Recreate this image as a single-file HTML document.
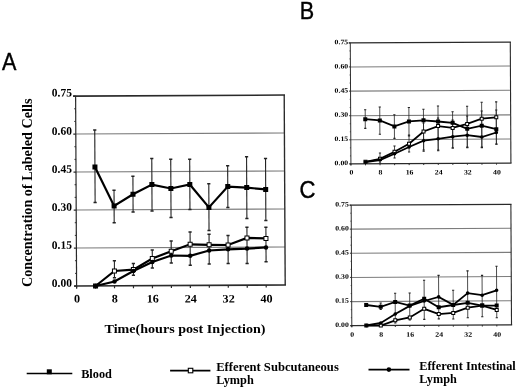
<!DOCTYPE html><html><head><meta charset="utf-8"><style>html,body{margin:0;padding:0;background:#fff;}svg{display:block;filter:grayscale(1)}</style></head><body>
<svg width="520" height="389" viewBox="0 0 520 389">
<rect width="520" height="389" fill="#fff"/>
<text transform="translate(2,69.5) scale(0.9,1)" font-size="24" stroke="#000" stroke-width="0.4" font-family="Liberation Sans">A</text>
<text transform="translate(299.8,19.3) scale(0.9,1)" font-size="24" stroke="#000" stroke-width="0.4" font-family="Liberation Sans">B</text>
<text transform="translate(299.6,198) scale(0.92,1.03)" font-size="24" stroke="#000" stroke-width="0.4" font-family="Liberation Sans">C</text>
<g transform="rotate(-0.3 180 190)">
<line x1="76.1" y1="133.5" x2="284.7" y2="133.5" stroke="#7c7c7c" stroke-width="1.1"/>
<line x1="76.1" y1="171.5" x2="284.7" y2="171.5" stroke="#7c7c7c" stroke-width="1.1"/>
<line x1="76.1" y1="209.5" x2="284.7" y2="209.5" stroke="#7c7c7c" stroke-width="1.1"/>
<line x1="76.1" y1="247.5" x2="284.7" y2="247.5" stroke="#7c7c7c" stroke-width="1.1"/>
<line x1="73.6" y1="95.6" x2="285.5" y2="95.6" stroke="#2a2a2a" stroke-width="1.6"/>
<line x1="284.7" y1="95.6" x2="284.7" y2="285.5" stroke="#2a2a2a" stroke-width="1.36"/>
<line x1="73.6" y1="285.5" x2="285.5" y2="285.5" stroke="#2a2a2a" stroke-width="1.6"/>
<line x1="76.1" y1="95.6" x2="76.1" y2="288.0" stroke="#2a2a2a" stroke-width="1.2000000000000002"/>
<line x1="73.6" y1="95.6" x2="76.1" y2="95.6" stroke="#2a2a2a" stroke-width="1.2000000000000002"/>
<line x1="73.6" y1="133.5" x2="76.1" y2="133.5" stroke="#2a2a2a" stroke-width="1.2000000000000002"/>
<line x1="73.6" y1="171.5" x2="76.1" y2="171.5" stroke="#2a2a2a" stroke-width="1.2000000000000002"/>
<line x1="73.6" y1="209.5" x2="76.1" y2="209.5" stroke="#2a2a2a" stroke-width="1.2000000000000002"/>
<line x1="73.6" y1="247.5" x2="76.1" y2="247.5" stroke="#2a2a2a" stroke-width="1.2000000000000002"/>
<line x1="73.6" y1="285.5" x2="76.1" y2="285.5" stroke="#2a2a2a" stroke-width="1.2000000000000002"/>
<line x1="74.6" y1="108.23" x2="76.1" y2="108.23" stroke="#2a2a2a" stroke-width="0.96"/>
<line x1="74.6" y1="120.87" x2="76.1" y2="120.87" stroke="#2a2a2a" stroke-width="0.96"/>
<line x1="74.6" y1="146.17" x2="76.1" y2="146.17" stroke="#2a2a2a" stroke-width="0.96"/>
<line x1="74.6" y1="158.83" x2="76.1" y2="158.83" stroke="#2a2a2a" stroke-width="0.96"/>
<line x1="74.6" y1="184.17" x2="76.1" y2="184.17" stroke="#2a2a2a" stroke-width="0.96"/>
<line x1="74.6" y1="196.83" x2="76.1" y2="196.83" stroke="#2a2a2a" stroke-width="0.96"/>
<line x1="74.6" y1="222.17" x2="76.1" y2="222.17" stroke="#2a2a2a" stroke-width="0.96"/>
<line x1="74.6" y1="234.83" x2="76.1" y2="234.83" stroke="#2a2a2a" stroke-width="0.96"/>
<line x1="74.6" y1="260.17" x2="76.1" y2="260.17" stroke="#2a2a2a" stroke-width="0.96"/>
<line x1="74.6" y1="272.83" x2="76.1" y2="272.83" stroke="#2a2a2a" stroke-width="0.96"/>
<line x1="76.10" y1="285.5" x2="76.10" y2="288.0" stroke="#2a2a2a" stroke-width="1.2000000000000002"/>
<line x1="95.06" y1="285.5" x2="95.06" y2="288.0" stroke="#2a2a2a" stroke-width="1.2000000000000002"/>
<line x1="114.02" y1="285.5" x2="114.02" y2="288.0" stroke="#2a2a2a" stroke-width="1.2000000000000002"/>
<line x1="132.98" y1="285.5" x2="132.98" y2="288.0" stroke="#2a2a2a" stroke-width="1.2000000000000002"/>
<line x1="151.94" y1="285.5" x2="151.94" y2="288.0" stroke="#2a2a2a" stroke-width="1.2000000000000002"/>
<line x1="170.90" y1="285.5" x2="170.90" y2="288.0" stroke="#2a2a2a" stroke-width="1.2000000000000002"/>
<line x1="189.86" y1="285.5" x2="189.86" y2="288.0" stroke="#2a2a2a" stroke-width="1.2000000000000002"/>
<line x1="208.82" y1="285.5" x2="208.82" y2="288.0" stroke="#2a2a2a" stroke-width="1.2000000000000002"/>
<line x1="227.78" y1="285.5" x2="227.78" y2="288.0" stroke="#2a2a2a" stroke-width="1.2000000000000002"/>
<line x1="246.74" y1="285.5" x2="246.74" y2="288.0" stroke="#2a2a2a" stroke-width="1.2000000000000002"/>
<line x1="265.70" y1="285.5" x2="265.70" y2="288.0" stroke="#2a2a2a" stroke-width="1.2000000000000002"/>
<text transform="translate(71.39,286.23) scale(1.0,1)" text-anchor="end" font-size="11.5" font-family="Liberation Serif" font-weight="bold">0.00</text>
<text transform="translate(71.59,248.23) scale(1.0,1)" text-anchor="end" font-size="11.5" font-family="Liberation Serif" font-weight="bold">0.15</text>
<text transform="translate(71.79,210.23) scale(1.0,1)" text-anchor="end" font-size="11.5" font-family="Liberation Serif" font-weight="bold">0.30</text>
<text transform="translate(71.99,172.23) scale(1.0,1)" text-anchor="end" font-size="11.5" font-family="Liberation Serif" font-weight="bold">0.45</text>
<text transform="translate(72.19,134.23) scale(1.0,1)" text-anchor="end" font-size="11.5" font-family="Liberation Serif" font-weight="bold">0.60</text>
<text transform="translate(72.39,95.94) scale(1.0,1)" text-anchor="end" font-size="11.5" font-family="Liberation Serif" font-weight="bold">0.75</text>
<text transform="translate(76.40,301.96) scale(1.06,1)" text-anchor="middle" font-size="11.5" font-family="Liberation Serif" font-weight="bold">0</text>
<text transform="translate(114.32,302.15) scale(1.06,1)" text-anchor="middle" font-size="11.5" font-family="Liberation Serif" font-weight="bold">8</text>
<text transform="translate(152.24,302.35) scale(1.06,1)" text-anchor="middle" font-size="11.5" font-family="Liberation Serif" font-weight="bold">16</text>
<text transform="translate(190.16,302.55) scale(1.06,1)" text-anchor="middle" font-size="11.5" font-family="Liberation Serif" font-weight="bold">24</text>
<text transform="translate(228.08,302.75) scale(1.06,1)" text-anchor="middle" font-size="11.5" font-family="Liberation Serif" font-weight="bold">32</text>
<text transform="translate(266.00,302.95) scale(1.06,1)" text-anchor="middle" font-size="11.5" font-family="Liberation Serif" font-weight="bold">40</text>
<line x1="95.06" y1="129.55" x2="95.06" y2="202.16" stroke="#222" stroke-width="1.1"/>
<line x1="93.46" y1="129.55" x2="96.66" y2="129.55" stroke="#222" stroke-width="1.5"/>
<line x1="93.46" y1="202.16" x2="96.66" y2="202.16" stroke="#222" stroke-width="1.5"/>
<line x1="114.02" y1="189.95" x2="114.02" y2="222.35" stroke="#222" stroke-width="1.1"/>
<line x1="112.42" y1="189.95" x2="115.62" y2="189.95" stroke="#222" stroke-width="1.5"/>
<line x1="112.42" y1="222.35" x2="115.62" y2="222.35" stroke="#222" stroke-width="1.5"/>
<line x1="132.98" y1="175.95" x2="132.98" y2="211.75" stroke="#222" stroke-width="1.1"/>
<line x1="131.38" y1="175.95" x2="134.58" y2="175.95" stroke="#222" stroke-width="1.5"/>
<line x1="131.38" y1="211.75" x2="134.58" y2="211.75" stroke="#222" stroke-width="1.5"/>
<line x1="151.94" y1="158.35" x2="151.94" y2="210.85" stroke="#222" stroke-width="1.1"/>
<line x1="150.34" y1="158.35" x2="153.54" y2="158.35" stroke="#222" stroke-width="1.5"/>
<line x1="150.34" y1="210.85" x2="153.54" y2="210.85" stroke="#222" stroke-width="1.5"/>
<line x1="170.90" y1="159.25" x2="170.90" y2="217.45" stroke="#222" stroke-width="1.1"/>
<line x1="169.30" y1="159.25" x2="172.50" y2="159.25" stroke="#222" stroke-width="1.5"/>
<line x1="169.30" y1="217.45" x2="172.50" y2="217.45" stroke="#222" stroke-width="1.5"/>
<line x1="189.86" y1="159.35" x2="189.86" y2="209.55" stroke="#222" stroke-width="1.1"/>
<line x1="188.26" y1="159.35" x2="191.46" y2="159.35" stroke="#222" stroke-width="1.5"/>
<line x1="188.26" y1="209.55" x2="191.46" y2="209.55" stroke="#222" stroke-width="1.5"/>
<line x1="208.82" y1="183.85" x2="208.82" y2="230.75" stroke="#222" stroke-width="1.1"/>
<line x1="207.22" y1="183.85" x2="210.42" y2="183.85" stroke="#222" stroke-width="1.5"/>
<line x1="207.22" y1="230.75" x2="210.42" y2="230.75" stroke="#222" stroke-width="1.5"/>
<line x1="227.78" y1="165.95" x2="227.78" y2="207.65" stroke="#222" stroke-width="1.1"/>
<line x1="226.18" y1="165.95" x2="229.38" y2="165.95" stroke="#222" stroke-width="1.5"/>
<line x1="226.18" y1="207.65" x2="229.38" y2="207.65" stroke="#222" stroke-width="1.5"/>
<line x1="246.74" y1="157.05" x2="246.74" y2="218.85" stroke="#222" stroke-width="1.1"/>
<line x1="245.14" y1="157.05" x2="248.34" y2="157.05" stroke="#222" stroke-width="1.5"/>
<line x1="245.14" y1="218.85" x2="248.34" y2="218.85" stroke="#222" stroke-width="1.5"/>
<line x1="265.70" y1="158.95" x2="265.70" y2="220.95" stroke="#222" stroke-width="1.1"/>
<line x1="264.10" y1="158.95" x2="267.30" y2="158.95" stroke="#222" stroke-width="1.5"/>
<line x1="264.10" y1="220.95" x2="267.30" y2="220.95" stroke="#222" stroke-width="1.5"/>
<line x1="114.02" y1="260.46" x2="114.02" y2="277.36" stroke="#222" stroke-width="1.1"/>
<line x1="112.42" y1="260.46" x2="115.62" y2="260.46" stroke="#222" stroke-width="1.5"/>
<line x1="112.42" y1="277.36" x2="115.62" y2="277.36" stroke="#222" stroke-width="1.5"/>
<line x1="132.98" y1="263.35" x2="132.98" y2="274.95" stroke="#222" stroke-width="1.1"/>
<line x1="131.38" y1="263.35" x2="134.58" y2="263.35" stroke="#222" stroke-width="1.5"/>
<line x1="131.38" y1="274.95" x2="134.58" y2="274.95" stroke="#222" stroke-width="1.5"/>
<line x1="151.94" y1="249.85" x2="151.94" y2="267.85" stroke="#222" stroke-width="1.1"/>
<line x1="150.34" y1="249.85" x2="153.54" y2="249.85" stroke="#222" stroke-width="1.5"/>
<line x1="150.34" y1="267.85" x2="153.54" y2="267.85" stroke="#222" stroke-width="1.5"/>
<line x1="170.90" y1="240.95" x2="170.90" y2="262.95" stroke="#222" stroke-width="1.1"/>
<line x1="169.30" y1="240.95" x2="172.50" y2="240.95" stroke="#222" stroke-width="1.5"/>
<line x1="169.30" y1="262.95" x2="172.50" y2="262.95" stroke="#222" stroke-width="1.5"/>
<line x1="189.86" y1="231.95" x2="189.86" y2="265.35" stroke="#222" stroke-width="1.1"/>
<line x1="188.26" y1="231.95" x2="191.46" y2="231.95" stroke="#222" stroke-width="1.5"/>
<line x1="188.26" y1="265.35" x2="191.46" y2="265.35" stroke="#222" stroke-width="1.5"/>
<line x1="208.82" y1="234.45" x2="208.82" y2="264.25" stroke="#222" stroke-width="1.1"/>
<line x1="207.22" y1="234.45" x2="210.42" y2="234.45" stroke="#222" stroke-width="1.5"/>
<line x1="207.22" y1="264.25" x2="210.42" y2="264.25" stroke="#222" stroke-width="1.5"/>
<line x1="227.78" y1="235.75" x2="227.78" y2="263.85" stroke="#222" stroke-width="1.1"/>
<line x1="226.18" y1="235.75" x2="229.38" y2="235.75" stroke="#222" stroke-width="1.5"/>
<line x1="226.18" y1="263.85" x2="229.38" y2="263.85" stroke="#222" stroke-width="1.5"/>
<line x1="246.74" y1="227.55" x2="246.74" y2="263.75" stroke="#222" stroke-width="1.1"/>
<line x1="245.14" y1="227.55" x2="248.34" y2="227.55" stroke="#222" stroke-width="1.5"/>
<line x1="245.14" y1="263.75" x2="248.34" y2="263.75" stroke="#222" stroke-width="1.5"/>
<line x1="265.70" y1="227.65" x2="265.70" y2="262.15" stroke="#222" stroke-width="1.1"/>
<line x1="264.10" y1="227.65" x2="267.30" y2="227.65" stroke="#222" stroke-width="1.5"/>
<line x1="264.10" y1="262.15" x2="267.30" y2="262.15" stroke="#222" stroke-width="1.5"/>
<polyline points="95.06,285.56 114.02,270.66 132.98,269.35 151.94,258.35 170.90,251.25 189.86,244.35 208.82,244.95 227.78,245.25 246.74,238.25 265.70,238.85" fill="none" stroke="#000" stroke-width="2.2" stroke-linejoin="miter"/>
<rect x="93.06" y="283.56" width="4" height="4" fill="#fff" stroke="#000" stroke-width="1"/>
<rect x="112.02" y="268.66" width="4" height="4" fill="#fff" stroke="#000" stroke-width="1"/>
<rect x="130.98" y="267.35" width="4" height="4" fill="#fff" stroke="#000" stroke-width="1"/>
<rect x="149.94" y="256.35" width="4" height="4" fill="#fff" stroke="#000" stroke-width="1"/>
<rect x="168.90" y="249.25" width="4" height="4" fill="#fff" stroke="#000" stroke-width="1"/>
<rect x="187.86" y="242.35" width="4" height="4" fill="#fff" stroke="#000" stroke-width="1"/>
<rect x="206.82" y="242.95" width="4" height="4" fill="#fff" stroke="#000" stroke-width="1"/>
<rect x="225.78" y="243.25" width="4" height="4" fill="#fff" stroke="#000" stroke-width="1"/>
<rect x="244.74" y="236.25" width="4" height="4" fill="#fff" stroke="#000" stroke-width="1"/>
<rect x="263.70" y="236.85" width="4" height="4" fill="#fff" stroke="#000" stroke-width="1"/>
<polyline points="95.06,285.56 114.02,281.16 132.98,270.75 151.94,261.85 170.90,255.45 189.86,255.85 208.82,250.65 227.78,249.55 246.74,248.95 265.70,247.85" fill="none" stroke="#000" stroke-width="2.2" stroke-linejoin="miter"/>
<circle cx="95.06" cy="285.56" r="2.25" fill="#000"/>
<circle cx="114.02" cy="281.16" r="2.25" fill="#000"/>
<circle cx="132.98" cy="270.75" r="2.25" fill="#000"/>
<circle cx="151.94" cy="261.85" r="2.25" fill="#000"/>
<circle cx="170.90" cy="255.45" r="2.25" fill="#000"/>
<circle cx="189.86" cy="255.85" r="2.25" fill="#000"/>
<circle cx="208.82" cy="250.65" r="2.25" fill="#000"/>
<circle cx="227.78" cy="249.55" r="2.25" fill="#000"/>
<circle cx="246.74" cy="248.95" r="2.25" fill="#000"/>
<circle cx="265.70" cy="247.85" r="2.25" fill="#000"/>
<polyline points="95.06,166.55 114.02,205.65 132.98,194.05 151.94,184.45 170.90,188.45 189.86,184.55 208.82,207.55 227.78,186.85 246.74,187.95 265.70,189.85" fill="none" stroke="#000" stroke-width="2.2" stroke-linejoin="miter"/>
<rect x="92.56" y="164.05" width="5" height="5" fill="#000"/>
<rect x="111.52" y="203.15" width="5" height="5" fill="#000"/>
<rect x="130.48" y="191.55" width="5" height="5" fill="#000"/>
<rect x="149.44" y="181.95" width="5" height="5" fill="#000"/>
<rect x="168.40" y="185.95" width="5" height="5" fill="#000"/>
<rect x="187.36" y="182.05" width="5" height="5" fill="#000"/>
<rect x="206.32" y="205.05" width="5" height="5" fill="#000"/>
<rect x="225.28" y="184.35" width="5" height="5" fill="#000"/>
<rect x="244.24" y="185.45" width="5" height="5" fill="#000"/>
<rect x="263.20" y="187.35" width="5" height="5" fill="#000"/>
</g>
<text x="185" y="332.5" text-anchor="middle" font-size="12.8" textLength="161" lengthAdjust="spacingAndGlyphs" font-family="Liberation Serif" font-weight="bold">Time(hours post Injection)</text>
<text transform="translate(31.8,192.8) rotate(-90)" x="0" y="0" text-anchor="middle" font-size="13.8" textLength="188.5" lengthAdjust="spacingAndGlyphs" font-family="Liberation Serif" font-weight="bold">Concentration of Labeled Cells</text>
<g transform="rotate(-0.3 430 103)">
<line x1="350.6" y1="66.5" x2="510.6" y2="66.5" stroke="#7c7c7c" stroke-width="1.05"/>
<line x1="350.6" y1="90.7" x2="510.6" y2="90.7" stroke="#7c7c7c" stroke-width="1.05"/>
<line x1="350.6" y1="115.3" x2="510.6" y2="115.3" stroke="#7c7c7c" stroke-width="1.05"/>
<line x1="350.6" y1="139.4" x2="510.6" y2="139.4" stroke="#7c7c7c" stroke-width="1.05"/>
<line x1="349.1" y1="42.5" x2="511.25" y2="42.5" stroke="#2a2a2a" stroke-width="1.3"/>
<line x1="510.6" y1="42.5" x2="510.6" y2="163.5" stroke="#2a2a2a" stroke-width="1.105"/>
<line x1="349.1" y1="163.5" x2="511.25" y2="163.5" stroke="#2a2a2a" stroke-width="1.3"/>
<line x1="350.6" y1="42.5" x2="350.6" y2="165.0" stroke="#2a2a2a" stroke-width="0.9750000000000001"/>
<line x1="349.1" y1="42.5" x2="350.6" y2="42.5" stroke="#2a2a2a" stroke-width="0.9750000000000001"/>
<line x1="349.1" y1="66.5" x2="350.6" y2="66.5" stroke="#2a2a2a" stroke-width="0.9750000000000001"/>
<line x1="349.1" y1="90.7" x2="350.6" y2="90.7" stroke="#2a2a2a" stroke-width="0.9750000000000001"/>
<line x1="349.1" y1="115.3" x2="350.6" y2="115.3" stroke="#2a2a2a" stroke-width="0.9750000000000001"/>
<line x1="349.1" y1="139.4" x2="350.6" y2="139.4" stroke="#2a2a2a" stroke-width="0.9750000000000001"/>
<line x1="349.1" y1="163.5" x2="350.6" y2="163.5" stroke="#2a2a2a" stroke-width="0.9750000000000001"/>
<line x1="349.70000000000005" y1="50.50" x2="350.6" y2="50.50" stroke="#2a2a2a" stroke-width="0.78"/>
<line x1="349.70000000000005" y1="58.50" x2="350.6" y2="58.50" stroke="#2a2a2a" stroke-width="0.78"/>
<line x1="349.70000000000005" y1="74.57" x2="350.6" y2="74.57" stroke="#2a2a2a" stroke-width="0.78"/>
<line x1="349.70000000000005" y1="82.63" x2="350.6" y2="82.63" stroke="#2a2a2a" stroke-width="0.78"/>
<line x1="349.70000000000005" y1="98.90" x2="350.6" y2="98.90" stroke="#2a2a2a" stroke-width="0.78"/>
<line x1="349.70000000000005" y1="107.10" x2="350.6" y2="107.10" stroke="#2a2a2a" stroke-width="0.78"/>
<line x1="349.70000000000005" y1="123.33" x2="350.6" y2="123.33" stroke="#2a2a2a" stroke-width="0.78"/>
<line x1="349.70000000000005" y1="131.37" x2="350.6" y2="131.37" stroke="#2a2a2a" stroke-width="0.78"/>
<line x1="349.70000000000005" y1="147.43" x2="350.6" y2="147.43" stroke="#2a2a2a" stroke-width="0.78"/>
<line x1="349.70000000000005" y1="155.47" x2="350.6" y2="155.47" stroke="#2a2a2a" stroke-width="0.78"/>
<line x1="350.60" y1="163.5" x2="350.60" y2="165.0" stroke="#2a2a2a" stroke-width="0.9750000000000001"/>
<line x1="365.16" y1="163.5" x2="365.16" y2="165.0" stroke="#2a2a2a" stroke-width="0.9750000000000001"/>
<line x1="379.72" y1="163.5" x2="379.72" y2="165.0" stroke="#2a2a2a" stroke-width="0.9750000000000001"/>
<line x1="394.28" y1="163.5" x2="394.28" y2="165.0" stroke="#2a2a2a" stroke-width="0.9750000000000001"/>
<line x1="408.84" y1="163.5" x2="408.84" y2="165.0" stroke="#2a2a2a" stroke-width="0.9750000000000001"/>
<line x1="423.40" y1="163.5" x2="423.40" y2="165.0" stroke="#2a2a2a" stroke-width="0.9750000000000001"/>
<line x1="437.96" y1="163.5" x2="437.96" y2="165.0" stroke="#2a2a2a" stroke-width="0.9750000000000001"/>
<line x1="452.52" y1="163.5" x2="452.52" y2="165.0" stroke="#2a2a2a" stroke-width="0.9750000000000001"/>
<line x1="467.08" y1="163.5" x2="467.08" y2="165.0" stroke="#2a2a2a" stroke-width="0.9750000000000001"/>
<line x1="481.64" y1="163.5" x2="481.64" y2="165.0" stroke="#2a2a2a" stroke-width="0.9750000000000001"/>
<line x1="496.20" y1="163.5" x2="496.20" y2="165.0" stroke="#2a2a2a" stroke-width="0.9750000000000001"/>
<text transform="translate(347.88,164.67) scale(1.15,1)" text-anchor="end" font-size="6.8" font-family="Liberation Serif" font-weight="bold">0.00</text>
<text transform="translate(348.00,140.57) scale(1.15,1)" text-anchor="end" font-size="6.8" font-family="Liberation Serif" font-weight="bold">0.15</text>
<text transform="translate(348.13,116.37) scale(1.15,1)" text-anchor="end" font-size="6.8" font-family="Liberation Serif" font-weight="bold">0.30</text>
<text transform="translate(348.26,92.17) scale(1.15,1)" text-anchor="end" font-size="6.8" font-family="Liberation Serif" font-weight="bold">0.45</text>
<text transform="translate(348.38,67.97) scale(1.15,1)" text-anchor="end" font-size="6.8" font-family="Liberation Serif" font-weight="bold">0.60</text>
<text transform="translate(348.51,43.77) scale(1.15,1)" text-anchor="end" font-size="6.8" font-family="Liberation Serif" font-weight="bold">0.75</text>
<text transform="translate(351.00,174.19) scale(1.15,1)" text-anchor="middle" font-size="6.8" font-family="Liberation Serif" font-weight="bold">0</text>
<text transform="translate(380.12,174.34) scale(1.15,1)" text-anchor="middle" font-size="6.8" font-family="Liberation Serif" font-weight="bold">8</text>
<text transform="translate(409.24,174.49) scale(1.15,1)" text-anchor="middle" font-size="6.8" font-family="Liberation Serif" font-weight="bold">16</text>
<text transform="translate(438.36,174.64) scale(1.15,1)" text-anchor="middle" font-size="6.8" font-family="Liberation Serif" font-weight="bold">24</text>
<text transform="translate(467.48,174.80) scale(1.15,1)" text-anchor="middle" font-size="6.8" font-family="Liberation Serif" font-weight="bold">32</text>
<text transform="translate(496.60,174.95) scale(1.15,1)" text-anchor="middle" font-size="6.8" font-family="Liberation Serif" font-weight="bold">40</text>
<line x1="365.16" y1="109.36" x2="365.16" y2="128.06" stroke="#222" stroke-width="0.8"/>
<line x1="364.06" y1="109.36" x2="366.26" y2="109.36" stroke="#222" stroke-width="1.1"/>
<line x1="364.06" y1="128.06" x2="366.26" y2="128.06" stroke="#222" stroke-width="1.1"/>
<line x1="379.72" y1="106.74" x2="379.72" y2="133.94" stroke="#222" stroke-width="0.8"/>
<line x1="378.62" y1="106.74" x2="380.82" y2="106.74" stroke="#222" stroke-width="1.1"/>
<line x1="378.62" y1="133.94" x2="380.82" y2="133.94" stroke="#222" stroke-width="1.1"/>
<line x1="394.28" y1="114.51" x2="394.28" y2="138.21" stroke="#222" stroke-width="0.8"/>
<line x1="393.18" y1="114.51" x2="395.38" y2="114.51" stroke="#222" stroke-width="1.1"/>
<line x1="393.18" y1="138.21" x2="395.38" y2="138.21" stroke="#222" stroke-width="1.1"/>
<line x1="408.84" y1="107.39" x2="408.84" y2="135.79" stroke="#222" stroke-width="0.8"/>
<line x1="407.74" y1="107.39" x2="409.94" y2="107.39" stroke="#222" stroke-width="1.1"/>
<line x1="407.74" y1="135.79" x2="409.94" y2="135.79" stroke="#222" stroke-width="1.1"/>
<line x1="423.40" y1="109.17" x2="423.40" y2="151.27" stroke="#222" stroke-width="0.8"/>
<line x1="422.30" y1="109.17" x2="424.50" y2="109.17" stroke="#222" stroke-width="1.1"/>
<line x1="422.30" y1="151.27" x2="424.50" y2="151.27" stroke="#222" stroke-width="1.1"/>
<line x1="437.96" y1="106.04" x2="437.96" y2="150.74" stroke="#222" stroke-width="0.8"/>
<line x1="436.86" y1="106.04" x2="439.06" y2="106.04" stroke="#222" stroke-width="1.1"/>
<line x1="436.86" y1="150.74" x2="439.06" y2="150.74" stroke="#222" stroke-width="1.1"/>
<line x1="452.52" y1="111.92" x2="452.52" y2="148.12" stroke="#222" stroke-width="0.8"/>
<line x1="451.42" y1="111.92" x2="453.62" y2="111.92" stroke="#222" stroke-width="1.1"/>
<line x1="451.42" y1="148.12" x2="453.62" y2="148.12" stroke="#222" stroke-width="1.1"/>
<line x1="467.08" y1="106.49" x2="467.08" y2="147.79" stroke="#222" stroke-width="0.8"/>
<line x1="465.98" y1="106.49" x2="468.18" y2="106.49" stroke="#222" stroke-width="1.1"/>
<line x1="465.98" y1="147.79" x2="468.18" y2="147.79" stroke="#222" stroke-width="1.1"/>
<line x1="481.64" y1="102.57" x2="481.64" y2="147.87" stroke="#222" stroke-width="0.8"/>
<line x1="480.54" y1="102.57" x2="482.74" y2="102.57" stroke="#222" stroke-width="1.1"/>
<line x1="480.54" y1="147.87" x2="482.74" y2="147.87" stroke="#222" stroke-width="1.1"/>
<line x1="496.20" y1="102.25" x2="496.20" y2="144.65" stroke="#222" stroke-width="0.8"/>
<line x1="495.10" y1="102.25" x2="497.30" y2="102.25" stroke="#222" stroke-width="1.1"/>
<line x1="495.10" y1="144.65" x2="497.30" y2="144.65" stroke="#222" stroke-width="1.1"/>
<line x1="379.72" y1="152.74" x2="379.72" y2="162.74" stroke="#222" stroke-width="0.8"/>
<line x1="378.62" y1="152.74" x2="380.82" y2="152.74" stroke="#222" stroke-width="1.1"/>
<line x1="378.62" y1="162.74" x2="380.82" y2="162.74" stroke="#222" stroke-width="1.1"/>
<line x1="394.28" y1="145.81" x2="394.28" y2="157.81" stroke="#222" stroke-width="0.8"/>
<line x1="393.18" y1="145.81" x2="395.38" y2="145.81" stroke="#222" stroke-width="1.1"/>
<line x1="393.18" y1="157.81" x2="395.38" y2="157.81" stroke="#222" stroke-width="1.1"/>
<line x1="408.84" y1="134.89" x2="408.84" y2="151.89" stroke="#222" stroke-width="0.8"/>
<line x1="407.74" y1="134.89" x2="409.94" y2="134.89" stroke="#222" stroke-width="1.1"/>
<line x1="407.74" y1="151.89" x2="409.94" y2="151.89" stroke="#222" stroke-width="1.1"/>
<line x1="423.40" y1="122.97" x2="423.40" y2="149.97" stroke="#222" stroke-width="0.8"/>
<line x1="422.30" y1="122.97" x2="424.50" y2="122.97" stroke="#222" stroke-width="1.1"/>
<line x1="422.30" y1="149.97" x2="424.50" y2="149.97" stroke="#222" stroke-width="1.1"/>
<line x1="437.96" y1="118.04" x2="437.96" y2="150.04" stroke="#222" stroke-width="0.8"/>
<line x1="436.86" y1="118.04" x2="439.06" y2="118.04" stroke="#222" stroke-width="1.1"/>
<line x1="436.86" y1="150.04" x2="439.06" y2="150.04" stroke="#222" stroke-width="1.1"/>
<line x1="452.52" y1="120.12" x2="452.52" y2="148.12" stroke="#222" stroke-width="0.8"/>
<line x1="451.42" y1="120.12" x2="453.62" y2="120.12" stroke="#222" stroke-width="1.1"/>
<line x1="451.42" y1="148.12" x2="453.62" y2="148.12" stroke="#222" stroke-width="1.1"/>
<line x1="467.08" y1="116.19" x2="467.08" y2="147.19" stroke="#222" stroke-width="0.8"/>
<line x1="465.98" y1="116.19" x2="468.18" y2="116.19" stroke="#222" stroke-width="1.1"/>
<line x1="465.98" y1="147.19" x2="468.18" y2="147.19" stroke="#222" stroke-width="1.1"/>
<line x1="481.64" y1="111.27" x2="481.64" y2="147.27" stroke="#222" stroke-width="0.8"/>
<line x1="480.54" y1="111.27" x2="482.74" y2="111.27" stroke="#222" stroke-width="1.1"/>
<line x1="480.54" y1="147.27" x2="482.74" y2="147.27" stroke="#222" stroke-width="1.1"/>
<line x1="496.20" y1="110.35" x2="496.20" y2="144.35" stroke="#222" stroke-width="0.8"/>
<line x1="495.10" y1="110.35" x2="497.30" y2="110.35" stroke="#222" stroke-width="1.1"/>
<line x1="495.10" y1="144.35" x2="497.30" y2="144.35" stroke="#222" stroke-width="1.1"/>
<polyline points="365.16,161.46 379.72,158.54 394.28,151.61 408.84,143.59 423.40,131.47 437.96,126.14 452.52,128.02 467.08,124.09 481.64,118.97 496.20,117.65" fill="none" stroke="#000" stroke-width="1.8" stroke-linejoin="miter"/>
<rect x="363.66" y="159.96" width="3" height="3" fill="#fff" stroke="#000" stroke-width="1"/>
<rect x="378.22" y="157.04" width="3" height="3" fill="#fff" stroke="#000" stroke-width="1"/>
<rect x="392.78" y="150.11" width="3" height="3" fill="#fff" stroke="#000" stroke-width="1"/>
<rect x="407.34" y="142.09" width="3" height="3" fill="#fff" stroke="#000" stroke-width="1"/>
<rect x="421.90" y="129.97" width="3" height="3" fill="#fff" stroke="#000" stroke-width="1"/>
<rect x="436.46" y="124.64" width="3" height="3" fill="#fff" stroke="#000" stroke-width="1"/>
<rect x="451.02" y="126.52" width="3" height="3" fill="#fff" stroke="#000" stroke-width="1"/>
<rect x="465.58" y="122.59" width="3" height="3" fill="#fff" stroke="#000" stroke-width="1"/>
<rect x="480.14" y="117.47" width="3" height="3" fill="#fff" stroke="#000" stroke-width="1"/>
<rect x="494.70" y="116.15" width="3" height="3" fill="#fff" stroke="#000" stroke-width="1"/>
<polyline points="365.16,161.66 379.72,159.74 394.28,153.61 408.84,146.89 423.40,140.67 437.96,138.84 452.52,136.82 467.08,135.39 481.64,137.27 496.20,132.85" fill="none" stroke="#000" stroke-width="1.8" stroke-linejoin="miter"/>
<circle cx="365.16" cy="161.66" r="1.80" fill="#000"/>
<circle cx="379.72" cy="159.74" r="1.80" fill="#000"/>
<circle cx="394.28" cy="153.61" r="1.80" fill="#000"/>
<circle cx="408.84" cy="146.89" r="1.80" fill="#000"/>
<circle cx="423.40" cy="140.67" r="1.80" fill="#000"/>
<circle cx="437.96" cy="138.84" r="1.80" fill="#000"/>
<circle cx="452.52" cy="136.82" r="1.80" fill="#000"/>
<circle cx="467.08" cy="135.39" r="1.80" fill="#000"/>
<circle cx="481.64" cy="137.27" r="1.80" fill="#000"/>
<circle cx="496.20" cy="132.85" r="1.80" fill="#000"/>
<polyline points="365.16,118.86 379.72,120.14 394.28,126.21 408.84,121.29 423.40,120.27 437.96,121.54 452.52,122.92 467.08,128.99 481.64,125.97 496.20,129.55" fill="none" stroke="#000" stroke-width="1.8" stroke-linejoin="miter"/>
<rect x="363.16" y="116.86" width="4" height="4" fill="#000"/>
<rect x="377.72" y="118.14" width="4" height="4" fill="#000"/>
<rect x="392.28" y="124.21" width="4" height="4" fill="#000"/>
<rect x="406.84" y="119.29" width="4" height="4" fill="#000"/>
<rect x="421.40" y="118.27" width="4" height="4" fill="#000"/>
<rect x="435.96" y="119.54" width="4" height="4" fill="#000"/>
<rect x="450.52" y="120.92" width="4" height="4" fill="#000"/>
<rect x="465.08" y="126.99" width="4" height="4" fill="#000"/>
<rect x="479.64" y="123.97" width="4" height="4" fill="#000"/>
<rect x="494.20" y="127.55" width="4" height="4" fill="#000"/>
</g>
<g transform="rotate(-0.3 431 265)">
<line x1="351.5" y1="228.7" x2="511.2" y2="228.7" stroke="#7c7c7c" stroke-width="1.05"/>
<line x1="351.5" y1="252.8" x2="511.2" y2="252.8" stroke="#7c7c7c" stroke-width="1.05"/>
<line x1="351.5" y1="277" x2="511.2" y2="277" stroke="#7c7c7c" stroke-width="1.05"/>
<line x1="351.5" y1="301.2" x2="511.2" y2="301.2" stroke="#7c7c7c" stroke-width="1.05"/>
<line x1="350.0" y1="204.8" x2="511.84999999999997" y2="204.8" stroke="#2a2a2a" stroke-width="1.3"/>
<line x1="511.2" y1="204.8" x2="511.2" y2="325.3" stroke="#2a2a2a" stroke-width="1.105"/>
<line x1="350.0" y1="325.3" x2="511.84999999999997" y2="325.3" stroke="#2a2a2a" stroke-width="1.3"/>
<line x1="351.5" y1="204.8" x2="351.5" y2="326.8" stroke="#2a2a2a" stroke-width="0.9750000000000001"/>
<line x1="350.0" y1="204.8" x2="351.5" y2="204.8" stroke="#2a2a2a" stroke-width="0.9750000000000001"/>
<line x1="350.0" y1="228.7" x2="351.5" y2="228.7" stroke="#2a2a2a" stroke-width="0.9750000000000001"/>
<line x1="350.0" y1="252.8" x2="351.5" y2="252.8" stroke="#2a2a2a" stroke-width="0.9750000000000001"/>
<line x1="350.0" y1="277" x2="351.5" y2="277" stroke="#2a2a2a" stroke-width="0.9750000000000001"/>
<line x1="350.0" y1="301.2" x2="351.5" y2="301.2" stroke="#2a2a2a" stroke-width="0.9750000000000001"/>
<line x1="350.0" y1="325.3" x2="351.5" y2="325.3" stroke="#2a2a2a" stroke-width="0.9750000000000001"/>
<line x1="350.6" y1="212.77" x2="351.5" y2="212.77" stroke="#2a2a2a" stroke-width="0.78"/>
<line x1="350.6" y1="220.73" x2="351.5" y2="220.73" stroke="#2a2a2a" stroke-width="0.78"/>
<line x1="350.6" y1="236.73" x2="351.5" y2="236.73" stroke="#2a2a2a" stroke-width="0.78"/>
<line x1="350.6" y1="244.77" x2="351.5" y2="244.77" stroke="#2a2a2a" stroke-width="0.78"/>
<line x1="350.6" y1="260.87" x2="351.5" y2="260.87" stroke="#2a2a2a" stroke-width="0.78"/>
<line x1="350.6" y1="268.93" x2="351.5" y2="268.93" stroke="#2a2a2a" stroke-width="0.78"/>
<line x1="350.6" y1="285.07" x2="351.5" y2="285.07" stroke="#2a2a2a" stroke-width="0.78"/>
<line x1="350.6" y1="293.13" x2="351.5" y2="293.13" stroke="#2a2a2a" stroke-width="0.78"/>
<line x1="350.6" y1="309.23" x2="351.5" y2="309.23" stroke="#2a2a2a" stroke-width="0.78"/>
<line x1="350.6" y1="317.27" x2="351.5" y2="317.27" stroke="#2a2a2a" stroke-width="0.78"/>
<line x1="351.50" y1="325.3" x2="351.50" y2="326.8" stroke="#2a2a2a" stroke-width="0.9750000000000001"/>
<line x1="366.00" y1="325.3" x2="366.00" y2="326.8" stroke="#2a2a2a" stroke-width="0.9750000000000001"/>
<line x1="380.50" y1="325.3" x2="380.50" y2="326.8" stroke="#2a2a2a" stroke-width="0.9750000000000001"/>
<line x1="395.00" y1="325.3" x2="395.00" y2="326.8" stroke="#2a2a2a" stroke-width="0.9750000000000001"/>
<line x1="409.50" y1="325.3" x2="409.50" y2="326.8" stroke="#2a2a2a" stroke-width="0.9750000000000001"/>
<line x1="424.00" y1="325.3" x2="424.00" y2="326.8" stroke="#2a2a2a" stroke-width="0.9750000000000001"/>
<line x1="438.50" y1="325.3" x2="438.50" y2="326.8" stroke="#2a2a2a" stroke-width="0.9750000000000001"/>
<line x1="453.00" y1="325.3" x2="453.00" y2="326.8" stroke="#2a2a2a" stroke-width="0.9750000000000001"/>
<line x1="467.50" y1="325.3" x2="467.50" y2="326.8" stroke="#2a2a2a" stroke-width="0.9750000000000001"/>
<line x1="482.00" y1="325.3" x2="482.00" y2="326.8" stroke="#2a2a2a" stroke-width="0.9750000000000001"/>
<line x1="496.50" y1="325.3" x2="496.50" y2="326.8" stroke="#2a2a2a" stroke-width="0.9750000000000001"/>
<text transform="translate(348.48,326.47) scale(1.15,1)" text-anchor="end" font-size="6.8" font-family="Liberation Serif" font-weight="bold">0.00</text>
<text transform="translate(348.60,302.37) scale(1.15,1)" text-anchor="end" font-size="6.8" font-family="Liberation Serif" font-weight="bold">0.15</text>
<text transform="translate(348.73,278.27) scale(1.15,1)" text-anchor="end" font-size="6.8" font-family="Liberation Serif" font-weight="bold">0.30</text>
<text transform="translate(348.86,254.17) scale(1.15,1)" text-anchor="end" font-size="6.8" font-family="Liberation Serif" font-weight="bold">0.45</text>
<text transform="translate(348.98,230.07) scale(1.15,1)" text-anchor="end" font-size="6.8" font-family="Liberation Serif" font-weight="bold">0.60</text>
<text transform="translate(349.11,205.97) scale(1.15,1)" text-anchor="end" font-size="6.8" font-family="Liberation Serif" font-weight="bold">0.75</text>
<text transform="translate(351.80,336.28) scale(1.15,1)" text-anchor="middle" font-size="6.8" font-family="Liberation Serif" font-weight="bold">0</text>
<text transform="translate(380.80,336.44) scale(1.15,1)" text-anchor="middle" font-size="6.8" font-family="Liberation Serif" font-weight="bold">8</text>
<text transform="translate(409.80,336.59) scale(1.15,1)" text-anchor="middle" font-size="6.8" font-family="Liberation Serif" font-weight="bold">16</text>
<text transform="translate(438.80,336.74) scale(1.15,1)" text-anchor="middle" font-size="6.8" font-family="Liberation Serif" font-weight="bold">24</text>
<text transform="translate(467.80,336.89) scale(1.15,1)" text-anchor="middle" font-size="6.8" font-family="Liberation Serif" font-weight="bold">32</text>
<text transform="translate(496.80,337.04) scale(1.15,1)" text-anchor="middle" font-size="6.8" font-family="Liberation Serif" font-weight="bold">40</text>
<line x1="380.50" y1="302.74" x2="380.50" y2="309.24" stroke="#222" stroke-width="0.8"/>
<line x1="379.40" y1="302.74" x2="381.60" y2="302.74" stroke="#222" stroke-width="1.1"/>
<line x1="379.40" y1="309.24" x2="381.60" y2="309.24" stroke="#222" stroke-width="1.1"/>
<line x1="395.00" y1="293.11" x2="395.00" y2="322.81" stroke="#222" stroke-width="0.8"/>
<line x1="393.90" y1="293.11" x2="396.10" y2="293.11" stroke="#222" stroke-width="1.1"/>
<line x1="393.90" y1="322.81" x2="396.10" y2="322.81" stroke="#222" stroke-width="1.1"/>
<line x1="409.50" y1="292.89" x2="409.50" y2="319.89" stroke="#222" stroke-width="0.8"/>
<line x1="408.40" y1="292.89" x2="410.60" y2="292.89" stroke="#222" stroke-width="1.1"/>
<line x1="408.40" y1="319.89" x2="410.60" y2="319.89" stroke="#222" stroke-width="1.1"/>
<line x1="424.00" y1="280.16" x2="424.00" y2="319.36" stroke="#222" stroke-width="0.8"/>
<line x1="422.90" y1="280.16" x2="425.10" y2="280.16" stroke="#222" stroke-width="1.1"/>
<line x1="422.90" y1="319.36" x2="425.10" y2="319.36" stroke="#222" stroke-width="1.1"/>
<line x1="438.50" y1="275.44" x2="438.50" y2="318.94" stroke="#222" stroke-width="0.8"/>
<line x1="437.40" y1="275.44" x2="439.60" y2="275.44" stroke="#222" stroke-width="1.1"/>
<line x1="437.40" y1="318.94" x2="439.60" y2="318.94" stroke="#222" stroke-width="1.1"/>
<line x1="453.00" y1="290.42" x2="453.00" y2="319.12" stroke="#222" stroke-width="0.8"/>
<line x1="451.90" y1="290.42" x2="454.10" y2="290.42" stroke="#222" stroke-width="1.1"/>
<line x1="451.90" y1="319.12" x2="454.10" y2="319.12" stroke="#222" stroke-width="1.1"/>
<line x1="467.50" y1="271.09" x2="467.50" y2="317.99" stroke="#222" stroke-width="0.8"/>
<line x1="466.40" y1="271.09" x2="468.60" y2="271.09" stroke="#222" stroke-width="1.1"/>
<line x1="466.40" y1="317.99" x2="468.60" y2="317.99" stroke="#222" stroke-width="1.1"/>
<line x1="482.00" y1="275.67" x2="482.00" y2="317.07" stroke="#222" stroke-width="0.8"/>
<line x1="480.90" y1="275.67" x2="483.10" y2="275.67" stroke="#222" stroke-width="1.1"/>
<line x1="480.90" y1="317.07" x2="483.10" y2="317.07" stroke="#222" stroke-width="1.1"/>
<line x1="496.50" y1="266.54" x2="496.50" y2="318.14" stroke="#222" stroke-width="0.8"/>
<line x1="495.40" y1="266.54" x2="497.60" y2="266.54" stroke="#222" stroke-width="1.1"/>
<line x1="495.40" y1="318.14" x2="497.60" y2="318.14" stroke="#222" stroke-width="1.1"/>
<polyline points="366.00,325.16 380.50,325.24 395.00,320.11 409.50,317.39 424.00,308.76 438.50,314.14 453.00,313.02 467.50,307.89 482.00,305.87 496.50,310.24" fill="none" stroke="#000" stroke-width="1.8" stroke-linejoin="miter"/>
<rect x="364.50" y="323.66" width="3" height="3" fill="#fff" stroke="#000" stroke-width="1"/>
<rect x="379.00" y="323.74" width="3" height="3" fill="#fff" stroke="#000" stroke-width="1"/>
<rect x="393.50" y="318.61" width="3" height="3" fill="#fff" stroke="#000" stroke-width="1"/>
<rect x="408.00" y="315.89" width="3" height="3" fill="#fff" stroke="#000" stroke-width="1"/>
<rect x="422.50" y="307.26" width="3" height="3" fill="#fff" stroke="#000" stroke-width="1"/>
<rect x="437.00" y="312.64" width="3" height="3" fill="#fff" stroke="#000" stroke-width="1"/>
<rect x="451.50" y="311.52" width="3" height="3" fill="#fff" stroke="#000" stroke-width="1"/>
<rect x="466.00" y="306.39" width="3" height="3" fill="#fff" stroke="#000" stroke-width="1"/>
<rect x="480.50" y="304.37" width="3" height="3" fill="#fff" stroke="#000" stroke-width="1"/>
<rect x="495.00" y="308.74" width="3" height="3" fill="#fff" stroke="#000" stroke-width="1"/>
<polyline points="366.00,325.16 380.50,322.74 395.00,313.81 409.50,305.79 424.00,300.96 438.50,296.94 453.00,305.02 467.50,293.29 482.00,295.47 496.50,290.64" fill="none" stroke="#000" stroke-width="1.8" stroke-linejoin="miter"/>
<circle cx="366.00" cy="325.16" r="1.80" fill="#000"/>
<circle cx="380.50" cy="322.74" r="1.80" fill="#000"/>
<circle cx="395.00" cy="313.81" r="1.80" fill="#000"/>
<circle cx="409.50" cy="305.79" r="1.80" fill="#000"/>
<circle cx="424.00" cy="300.96" r="1.80" fill="#000"/>
<circle cx="438.50" cy="296.94" r="1.80" fill="#000"/>
<circle cx="453.00" cy="305.02" r="1.80" fill="#000"/>
<circle cx="467.50" cy="293.29" r="1.80" fill="#000"/>
<circle cx="482.00" cy="295.47" r="1.80" fill="#000"/>
<circle cx="496.50" cy="290.64" r="1.80" fill="#000"/>
<polyline points="366.00,304.66 380.50,306.54 395.00,301.71 409.50,305.39 424.00,298.66 438.50,307.24 453.00,305.12 467.50,302.99 482.00,305.87 496.50,305.94" fill="none" stroke="#000" stroke-width="1.8" stroke-linejoin="miter"/>
<rect x="364.00" y="302.66" width="4" height="4" fill="#000"/>
<rect x="378.50" y="304.54" width="4" height="4" fill="#000"/>
<rect x="393.00" y="299.71" width="4" height="4" fill="#000"/>
<rect x="407.50" y="303.39" width="4" height="4" fill="#000"/>
<rect x="422.00" y="296.66" width="4" height="4" fill="#000"/>
<rect x="436.50" y="305.24" width="4" height="4" fill="#000"/>
<rect x="451.00" y="303.12" width="4" height="4" fill="#000"/>
<rect x="465.50" y="300.99" width="4" height="4" fill="#000"/>
<rect x="480.00" y="303.87" width="4" height="4" fill="#000"/>
<rect x="494.50" y="303.94" width="4" height="4" fill="#000"/>
</g>
<line x1="26.7" y1="373.5" x2="72.3" y2="373.5" stroke="#000" stroke-width="1.6"/>
<rect x="46.8" y="369.3" width="5" height="5" fill="#000"/>
<text x="81.2" y="378.1" font-size="12" textLength="30.7" lengthAdjust="spacingAndGlyphs" font-family="Liberation Serif" font-weight="bold">Blood</text>
<line x1="170.1" y1="370.6" x2="210.4" y2="370.6" stroke="#000" stroke-width="1.6"/>
<rect x="188.3" y="368.3" width="4.5" height="4.5" fill="#fff" stroke="#000" stroke-width="1.1"/>
<text x="216.2" y="370.9" font-size="12.3" textLength="122.6" lengthAdjust="spacingAndGlyphs" font-family="Liberation Serif" font-weight="bold">Efferent Subcutaneous</text>
<text x="216.2" y="384" font-size="12.3" textLength="37.6" lengthAdjust="spacingAndGlyphs" font-family="Liberation Serif" font-weight="bold">Lymph</text>
<line x1="368.5" y1="369.6" x2="409.5" y2="369.6" stroke="#000" stroke-width="1.6"/>
<circle cx="388.9" cy="369.6" r="2.3" fill="#000"/>
<text x="419.3" y="370" font-size="12" textLength="96.5" lengthAdjust="spacingAndGlyphs" font-family="Liberation Serif" font-weight="bold">Efferent Intestinal</text>
<text x="419.3" y="383.4" font-size="12" textLength="37.5" lengthAdjust="spacingAndGlyphs" font-family="Liberation Serif" font-weight="bold">Lymph</text>
</svg></body></html>
